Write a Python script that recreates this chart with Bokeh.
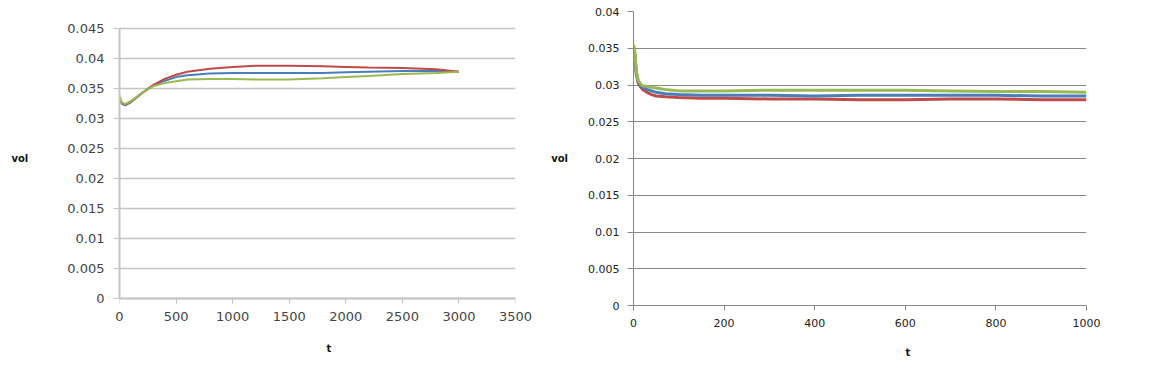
from bokeh.plotting import figure
from bokeh.layouts import row
from bokeh.models import Title, FixedTicker, LinearAxis
from bokeh.embed import file_html
from bokeh.resources import INLINE

# ---- data ----
t_left = [0, 20, 50, 100, 200, 300, 400, 500, 600, 800, 1000, 1200, 1500, 1800, 2000, 2200, 2500, 2800, 3000]
left_red = [0.0335, 0.0326, 0.0323, 0.0328, 0.0343, 0.0356, 0.0366, 0.0373, 0.0378, 0.0383, 0.0386, 0.0388, 0.0388, 0.0387, 0.0386, 0.0385, 0.0384, 0.0382, 0.0378]
left_blue = [0.0334, 0.0325, 0.0322, 0.0327, 0.0342, 0.0355, 0.0363, 0.0369, 0.0372, 0.0375, 0.0376, 0.0376, 0.0376, 0.0376, 0.0377, 0.0378, 0.0379, 0.0379, 0.0378]
left_green = [0.0338, 0.0327, 0.0324, 0.0329, 0.0343, 0.0354, 0.0359, 0.0362, 0.0365, 0.0366, 0.0366, 0.0365, 0.0365, 0.0367, 0.0369, 0.0371, 0.0374, 0.0376, 0.0378]

t_right = [0, 3, 6, 10, 15, 20, 30, 40, 50, 70, 100, 150, 200, 300, 400, 500, 600, 700, 800, 900, 1000]
right_red = [0.0352, 0.0340, 0.0315, 0.0303, 0.0298, 0.0294, 0.0290, 0.0287, 0.0285, 0.0284, 0.0283, 0.0282, 0.0282, 0.0281, 0.0281, 0.0280, 0.0280, 0.0281, 0.0281, 0.0280, 0.0280]
right_blue = [0.0353, 0.0342, 0.0318, 0.0306, 0.0300, 0.0297, 0.0294, 0.0292, 0.0290, 0.0288, 0.0287, 0.0286, 0.0286, 0.0286, 0.0285, 0.0286, 0.0286, 0.0286, 0.0286, 0.0285, 0.0285]
right_green = [0.0355, 0.0345, 0.0320, 0.0307, 0.0302, 0.0299, 0.0298, 0.0297, 0.0296, 0.0294, 0.0292, 0.0292, 0.0292, 0.0293, 0.0293, 0.0293, 0.0293, 0.0292, 0.0291, 0.0291, 0.0290]

left_xticks = [0, 500, 1000, 1500, 2000, 2500, 3000, 3500]
left_yticks = [0, 0.005, 0.01, 0.015, 0.02, 0.025, 0.03, 0.035, 0.04, 0.045]
right_xticks = [0, 200, 400, 600, 800, 1000]
right_yticks = [0, 0.005, 0.01, 0.015, 0.02, 0.025, 0.03, 0.035, 0.04]

RED = "#BE4B48"
BLUE = "#4A7EBB"
GREEN = "#98B954"


def style(p, grid_color, axis_color, grid_w, axis_w, font, fsize, tick_color):
    p.outline_line_color = None
    p.background_fill_color = "white"
    p.border_fill_color = "white"
    p.xgrid.grid_line_color = None
    p.ygrid.grid_line_color = grid_color
    p.ygrid.grid_line_width = grid_w
    for ax in (p.xaxis[0], p.yaxis[0]):
        ax.axis_line_color = axis_color
        ax.axis_line_width = axis_w
        ax.major_tick_line_color = axis_color
        ax.major_tick_in = 0
        ax.major_tick_out = 5
        ax.minor_tick_line_color = None
        ax.major_label_text_font = font
        ax.major_label_text_font_size = fsize
        ax.major_label_text_color = tick_color
    p.yaxis[0].major_tick_out = 6
    ya = p.yaxis[0]
    ya.axis_label = "vol"
    ya.axis_label_orientation = "horizontal"
    ya.axis_label_text_font = "DejaVu Sans"
    ya.axis_label_text_font_size = "10px"
    ya.axis_label_text_font_style = "bold"
    ya.axis_label_text_color = "#111111"


def t_title(p, offset, standoff):
    p.add_layout(Title(text="t", align="left", offset=offset, standoff=standoff,
                       text_font="DejaVu Sans", text_font_size="10px", text_font_style="bold",
                       text_color="#111111"), "below")


# ---- left chart (frame shares the row's vertical extent; range padded so 0..0.045 sits like the original) ----
p1 = figure(width=548, height=376, x_range=(0, 3500), y_range=(-0.0011667, 0.0478333),
            output_backend="svg", toolbar_location=None,
            min_border_left=119, min_border_right=33, min_border_top=11, min_border_bottom=20)
p1.frame_height = 294
p1.frame_width = 396
style(p1, "#c4c4c4", "#c4c4c4", 1.5, 2, "DejaVu Sans", "13px", "#454545")
p1.xaxis[0].ticker = FixedTicker(ticks=left_xticks)
p1.yaxis[0].ticker = FixedTicker(ticks=left_yticks)
p1.yaxis[0].bounds = (0, 0.045)
# axis line + ticks sit at value 0 (inside the padded frame); labels come from a second axis below
p1.xaxis[0].fixed_location = 0
p1.xaxis[0].major_label_text_color = None
p1.yaxis[0].major_label_standoff = 9
p1.yaxis[0].axis_label_standoff = 36
xlab = LinearAxis(ticker=FixedTicker(ticks=left_xticks), axis_line_color=None,
                  major_tick_line_color=None, minor_tick_line_color=None,
                  major_tick_in=0, major_tick_out=0, major_label_standoff=6,
                  major_label_text_font="DejaVu Sans", major_label_text_font_size="13px",
                  major_label_text_color="#454545")
p1.add_layout(xlab, "below")
p1.line(t_left, left_blue, line_color=BLUE, line_width=2)
p1.line(t_left, left_red, line_color=RED, line_width=2)
p1.line(t_left, left_green, line_color=GREEN, line_width=2)
t_title(p1, 207, 34)

# ---- right chart ----
p2 = figure(width=595, height=376, x_range=(0, 1000), y_range=(0, 0.04),
            output_backend="svg", toolbar_location=None,
            min_border_left=85, min_border_right=57, min_border_top=11, min_border_bottom=20)
p2.frame_height = 294
p2.frame_width = 453
style(p2, "#888888", "#888888", 1, 1, "DejaVu Sans", "11px", "#222222")
p2.xaxis[0].ticker = FixedTicker(ticks=right_xticks)
p2.yaxis[0].ticker = FixedTicker(ticks=right_yticks)
p2.yaxis[0].major_label_standoff = 8
p2.xaxis[0].major_label_standoff = 8
p2.yaxis[0].axis_label_standoff = 17
p2.line(t_right, right_red, line_color=RED, line_width=3)
p2.line(t_right, right_blue, line_color=BLUE, line_width=3)
p2.line(t_right, right_green, line_color=GREEN, line_width=3)
t_title(p2, 272, 31)

layout = row(p1, p2)
open("out.html", "w").write(file_html(layout, INLINE))
